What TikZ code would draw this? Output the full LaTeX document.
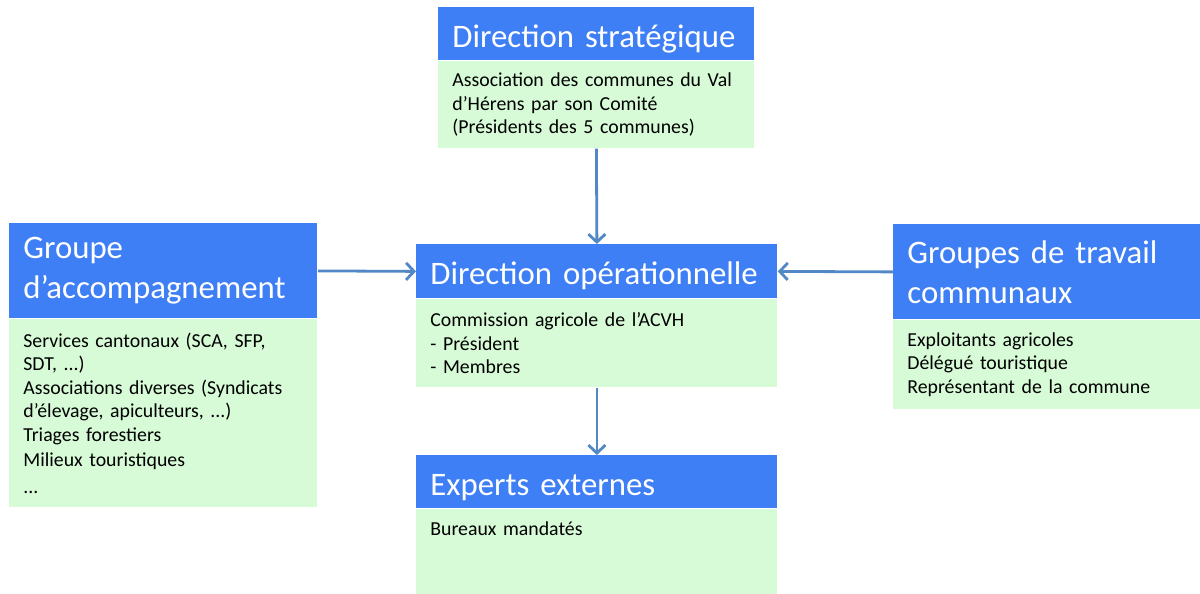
\documentclass[tikz,border=0pt]{standalone}
\usepackage{fontspec}
\setmainfont{Carlito}
\usetikzlibrary{arrows.meta}
\definecolor{headblue}{HTML}{3F7FF6}
\definecolor{bodygreen}{HTML}{D7FAD7}
\definecolor{arrowblue}{HTML}{5288C6}
\begin{document}
\begin{tikzpicture}[x=0.5pt, y=-0.5pt,
  head/.style={fill=headblue, text=white, anchor=north west, align=left, inner xsep=7pt, inner ysep=0pt, font=\fontsize{16.4}{20}\selectfont},
  onehead/.style={head, text height=20pt, text depth=6.5pt},
  body/.style={fill=bodygreen, anchor=north west, align=left, inner xsep=7pt, inner ysep=0pt, font=\fontsize{9.9}{11.75}\selectfont},
  link/.style={draw=arrowblue, line width=1.4pt, -{Straight Barb[length=4pt,width=8.5pt]}}]
\useasboundingbox (0,0) rectangle (1200,594);
\node[onehead, text width=144pt, minimum height=26.5pt] (ds) at (438,7) {Direction stratégique};
\node[body, text width=144pt, minimum height=43.5pt] (dsb) at (ds.south west) {Association des communes du Val\\ d’Hérens par son Comité\\ (Présidents des 5 communes)};
\node[head, text width=140pt, minimum height=47.5pt] (ga) at (9,223) {Groupe\\ d’accompagnement};
\node[body, text width=140pt, minimum height=94pt] (gab) at (ga.south west) {Services cantonaux (SCA, SFP,\\ SDT, ...)\\ Associations diverses (Syndicats\\ d’élevage, apiculteurs, ...)\\ Triages forestiers\\[1pt] Milieux touristiques\\[1.5pt] ...};
\node[head, text width=139.5pt, minimum height=47.5pt] (gt) at (893,224) {Groupes de travail\\ communaux};
\node[body, text width=139.5pt, minimum height=44.5pt] (gtb) at (gt.south west) {Exploitants agricoles\\ Délégué touristique\\ Représentant de la commune};
\node[onehead, text width=166.5pt, minimum height=27pt, text depth=7pt] (dop) at (416,244) {Direction opérationnelle};
\node[body, text width=166.5pt, minimum height=44pt] (dopb) at (dop.south west) {Commission agricole de l’ACVH\\ - Président\\ - Membres};
\node[onehead, text width=166.5pt, minimum height=26.5pt] (ee) at (416,455) {Experts externes};
\node[body, text width=166.5pt, minimum height=43pt] (eeb) at (ee.south west) {Bureaux mandatés\\ ~\\ ~};
\draw[link] (dsb.south) -- (dop.north);
\draw[link] (ga.east) -- (dop.west);
\draw[link] (gt.west) -- (dop.east);
\draw[link] (dopb.south) -- (ee.north);
\end{tikzpicture}
\end{document}
